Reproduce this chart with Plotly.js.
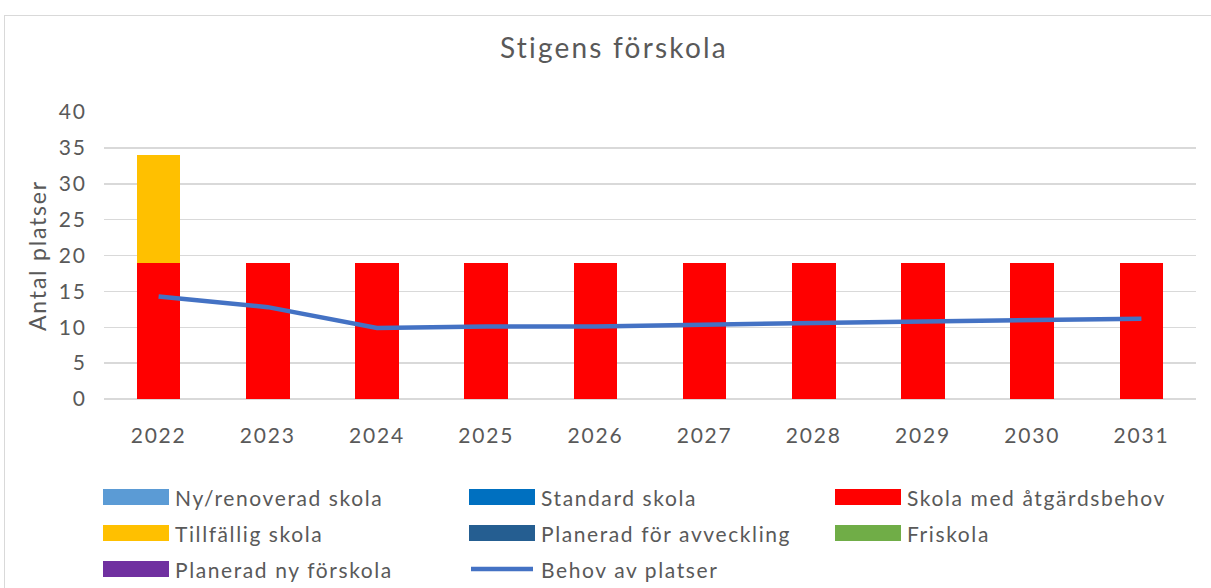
<!DOCTYPE html>
<html>
<head>
<meta charset="utf-8">
<script src="https://cdn.plot.ly/plotly-3.0.1.min.js"></script>
<style>
  html, body { margin: 0; padding: 0; background: #fff; }
  #wrap { position: relative; width: 1211px; height: 588px; overflow: hidden; }
  #chart { width: 1211px; height: 588px; }
  #chart text { letter-spacing: 1.8px; }
  #chart .annotation text { letter-spacing: 1.6px; }
  #chart .gtitle { letter-spacing: 2.2px; }
  #frame { position: absolute; left: 4px; top: 15px; width: 1220px; height: 600px;
           border: 1.5px solid #d9d9d9; pointer-events: none; box-sizing: border-box; }
</style>
</head>
<body>
<div id="wrap">
  <div id="chart"></div>
  <div id="frame"></div>
</div>
<script>
// ---- data ----
const years = ["2022","2023","2024","2025","2026","2027","2028","2029","2030","2031"];
const nyRenoverad = [0,0,0,0,0,0,0,0,0,0];
const standard = [0,0,0,0,0,0,0,0,0,0];
const atgardsbehov = [19,19,19,19,19,19,19,19,19,19];
const tillfallig = [15,0,0,0,0,0,0,0,0,0];
const avveckling = [0,0,0,0,0,0,0,0,0,0];
const friskola = [0,0,0,0,0,0,0,0,0,0];
const nyForskola = [0,0,0,0,0,0,0,0,0,0];
const behov = [14.3,12.8,9.9,10.1,10.1,10.4,10.6,10.8,11.0,11.2];
const yTicks = [0,5,10,15,20,25,30,35,40];

const seriesNames = ["Ny/renoverad skola","Standard skola","Skola med åtgärdsbehov",
  "Tillfällig skola","Planerad för avveckling","Friskola","Planerad ny förskola","Behov av platser"];
const seriesColors = ["#5B9BD5","#0070C0","#FF0000","#FFC000","#255E91","#70AD47","#7030A0","#4472C4"];
const barData = [nyRenoverad, standard, atgardsbehov, tillfallig, avveckling, friskola, nyForskola];

const FONT = "Lato, 'Open Sans', sans-serif";
const GREY = "#595959";

const traces = barData.map((vals, i) => ({
  type: "bar", x: years, y: vals, name: seriesNames[i],
  marker: { color: seriesColors[i] }, showlegend: false, hoverinfo: "skip"
}));
traces.push({
  type: "scatter", mode: "lines", x: years, y: behov, name: seriesNames[7],
  line: { color: seriesColors[7], width: 4.5 }, showlegend: false
});

// plot area geometry (pixels)
const L = 104, R = 1196, T = 112, B = 399;
const W = 1211, H = 588;
const px2x = p => (p - L) / (R - L);
const px2y = p => (B - p) / (B - T);

// custom legend (3 columns)
const colSwatch = [103, 469, 835];
const rowY = [497, 533, 569];
const shapes = [];
const annotations = [];
seriesNames.forEach((name, i) => {
  const c = i % 3, r = Math.floor(i / 3);
  const x0 = colSwatch[c], x1 = x0 + 66, yc = rowY[r];
  if (i === 7) {
    shapes.push({ type: "line", xref: "paper", yref: "paper",
      x0: px2x(x0 + 2), x1: px2x(x1 - 2), y0: px2y(yc), y1: px2y(yc),
      line: { color: seriesColors[i], width: 4.5 } });
  } else {
    shapes.push({ type: "rect", xref: "paper", yref: "paper",
      x0: px2x(x0), x1: px2x(x1), y0: px2y(yc - 8), y1: px2y(yc + 8),
      fillcolor: seriesColors[i], line: { width: 0 } });
  }
  annotations.push({ xref: "paper", yref: "paper", x: px2x(x1 + 4), y: px2y(yc),
    xanchor: "left", yanchor: "middle", align: "left", showarrow: false, text: name,
    font: { family: FONT, size: 21, color: GREY } });
});

const layout = {
  width: W, height: H,
  margin: { l: L, r: W - R, t: T, b: H - B, pad: 0 },
  paper_bgcolor: "rgba(0,0,0,0)", plot_bgcolor: "#fff",
  barmode: "stack", bargap: 0.6,
  title: { text: "Stigens förskola", x: 614 / W, xref: "container", xanchor: "center",
    y: 1 - 48 / H, yref: "container", yanchor: "middle",
    font: { family: FONT, size: 28, color: GREY } },
  xaxis: { type: "category", showgrid: false, zeroline: false, showline: false,
    ticks: "outside", ticklen: 18, tickcolor: "rgba(0,0,0,0)",
    tickfont: { family: FONT, size: 21, color: GREY }, fixedrange: true },
  yaxis: { range: [0, 40], tickvals: yTicks, ticktext: yTicks.map(String),
    showgrid: true, gridcolor: "#d9d9d9", gridwidth: 1.5,
    zeroline: true, zerolinecolor: "#d9d9d9", zerolinewidth: 1.5, showline: false,
    ticks: "outside", ticklen: 12, tickcolor: "rgba(0,0,0,0)",
    tickfont: { family: FONT, size: 21, color: GREY },
    title: { text: "Antal platser", standoff: 9, font: { family: FONT, size: 23, color: GREY } },
    fixedrange: true },
  showlegend: false,
  shapes: shapes,
  annotations: annotations
};

Plotly.newPlot("chart", traces, layout, { displayModeBar: false, staticPlot: true });
</script>
</body>
</html>
